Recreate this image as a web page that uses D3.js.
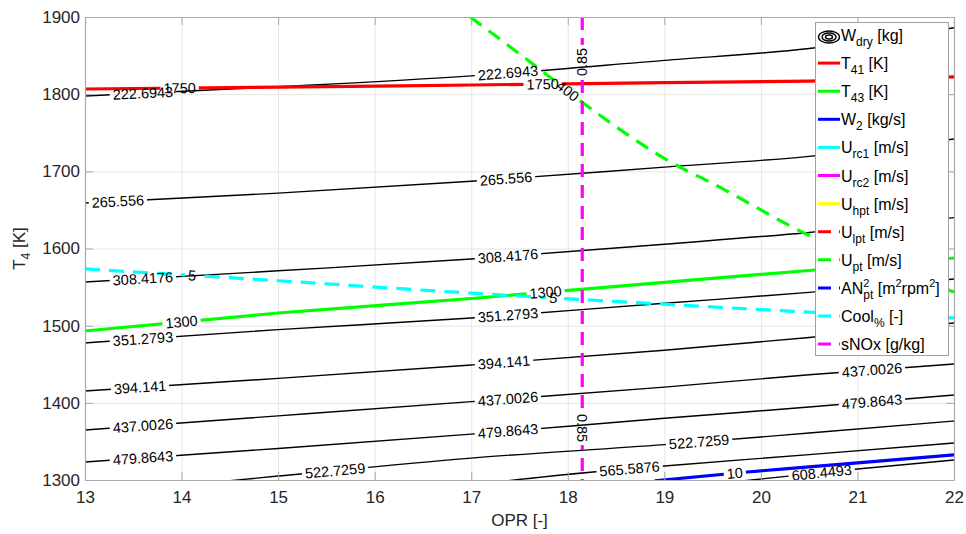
<!DOCTYPE html>
<html>
<head>
<meta charset="utf-8">
<script src="https://cdn.jsdelivr.net/npm/d3@7"></script>
<style>
  body { margin: 0; background: #fff; }
  svg text { font-family: "Liberation Sans", Arial, Helvetica, sans-serif; white-space: pre; }
</style>
</head>
<body>
<svg id="chart" width="966" height="534"></svg>
<script>
// ---- axis ticks ----
const xTicks = [13, 14, 15, 16, 17, 18, 19, 20, 21, 22];
const yTicks = [1300, 1400, 1500, 1600, 1700, 1800, 1900];

// ---- dry weight contours W_dry [kg]: level and (OPR, T4) trace of each iso-line ----
const wdryLevels = [222.6943, 265.556, 308.4176, 351.2793, 394.141, 437.0026, 479.8643, 522.7259, 565.5876, 608.4493];
const wdryOPR = [
  [13, 15, 17, 19, 20.5, 22],
  [13, 15, 17, 19, 20.5, 22],
  [13, 15, 17, 19, 20.5, 22],
  [13, 15, 17, 19, 20.5, 22],
  [13, 15, 17, 19, 20.5, 22],
  [13, 15, 17, 19, 20.5, 22],
  [13, 15, 17, 19, 20.5, 22],
  [14, 15, 17, 19, 20.5, 22],
  [17, 18.26, 19, 20.5, 22],
  [19.5, 21, 22]
];
const wdryT4 = [
  [1797.6, 1809.6, 1823.7, 1843.8, 1859.2, 1886.0],
  [1659.0, 1671.7, 1687.1, 1705.4, 1719.4, 1741.9],
  [1556.6, 1571.1, 1586.4, 1605.6, 1620.8, 1640.0],
  [1477.6, 1494.9, 1509.9, 1529.1, 1543.1, 1560.5],
  [1415.4, 1431.7, 1449.1, 1468.2, 1484.7, 1503.5],
  [1364.8, 1383.1, 1401.5, 1420.3, 1436.4, 1450.4],
  [1323.4, 1340.9, 1359.4, 1380.0, 1394.6, 1410.2],
  [1293.0, 1305.1, 1328.4, 1345.8, 1360.9, 1376.5],
  [1294.0, 1310.4, 1318.2, 1332.9, 1348.0],
  [1294.8, 1314.3, 1326.0]
];
// OPR stations where each contour carries its inline label
const wdryLabelOPR = [
  [13.60, 17.38], [13.34, 17.36], [13.60, 17.38], [13.60, 17.38], [13.57, 17.34],
  [13.60, 17.38, 21.15], [13.60, 17.38, 21.15], [15.59, 19.36], [18.64], [20.63]
];

// ---- constraint iso-lines ----
const t41Level = 1750;               // T41 [K]
const t41OPR = [13, 15, 17, 19, 20.5, 22];
const t41T4  = [1806.7, 1809.0, 1811.9, 1814.9, 1817.0, 1822.3];
const t41LabelOPR = [13.98, 17.74];

const t43Level = 1300;               // T43 [K]
const t43OPR = [13, 15, 17, 19, 20.5, 22];
const t43T4  = [1493.1, 1516.4, 1535.2, 1556.2, 1571.5, 1587.7];
const t43LabelOPR = [14.00, 17.77];

const w2Level = 10;                  // W2 [kg/s]
const w2OPR = [18.9, 19.86, 20.5, 22];
const w2T4  = [1299.0, 1310.4, 1317.0, 1332.5];
const w2LabelOPR = [19.73];

const coolLevel = 5;                 // Cool% [-]
const coolOPR = [13, 15, 17, 19, 20.5, 22];
const coolT4  = [1573.5, 1558.2, 1542.1, 1527.8, 1517.6, 1510.0];
const coolLabelOPR = [14.11, 17.85];

const uptLevel = 400;                // U_pt [m/s]
const uptOPR = [16.99, 17.76, 18.16, 19.16, 19.47, 20.49, 22];
const uptT4  = [1900, 1827.4, 1788.6, 1705.6, 1686.2, 1617.5, 1543.7];
const uptLabelOPR = [18.0];

const snoxLevel = 0.85;              // sNOx [g/kg]
const snoxOPR = 18.15;
const snoxLabelT4 = [1841.7, 1367.4];

// ---- legend ----
const legendLabels = [
  [["W", ""], ["dry", "sub"], [" [kg]", ""]],
  [["T", ""], ["41", "sub"], [" [K]", ""]],
  [["T", ""], ["43", "sub"], [" [K]", ""]],
  [["W", ""], ["2", "sub"], [" [kg/s]", ""]],
  [["U", ""], ["rc1", "sub"], [" [m/s]", ""]],
  [["U", ""], ["rc2", "sub"], [" [m/s]", ""]],
  [["U", ""], ["hpt", "sub"], [" [m/s]", ""]],
  [["U", ""], ["lpt", "sub"], [" [m/s]", ""]],
  [["U", ""], ["pt", "sub"], [" [m/s]", ""]],
  [["AN", ""], ["2", "sup"], ["pt", "stack"], [" [m", ""], ["2", "sup"], ["rpm", ""], ["2", "sup"], ["]", ""]],
  [["Cool", ""], ["%", "sub"], [" [-]", ""]],
  [["sNOx [g/kg]", ""]]
];
const legendColors = ["#000000", "#ff0000", "#00ff00", "#0000ff", "#00ffff", "#ff00ff", "#ffff00",
                      "#ff0000", "#00ff00", "#0000ff", "#00ffff", "#ff00ff"];
const legendDashed = [false, false, false, false, false, false, false, true, true, true, true, true];

// ================= drawing =================
const W = 966, H = 534;
const svg = d3.select("#chart");
const defs = svg.append("defs");

const x = d3.scaleLinear().domain([13, 22]).range([85, 954]);
const y = d3.scaleLinear().domain([1300, 1900]).range([480, 17]);
const [x0, x1] = x.range();
const [yb, yt] = y.range();

defs.append("clipPath").attr("id", "plotClip")
  .append("rect").attr("x", x0).attr("y", yt).attr("width", x1 - x0).attr("height", yb - yt);

svg.append("rect").attr("x", x0).attr("y", yt).attr("width", x1 - x0).attr("height", yb - yt).attr("fill", "#fff");

// grid
const grid = svg.append("g").attr("stroke", "#e6e6e6").attr("stroke-width", 1);
grid.selectAll(".gx").data(xTicks.slice(1, -1)).enter().append("line")
  .attr("x1", d => x(d) + 0.5).attr("x2", d => x(d) + 0.5).attr("y1", yt).attr("y2", yb);
grid.selectAll(".gy").data(yTicks.slice(1, -1)).enter().append("line")
  .attr("y1", d => y(d) + 0.5).attr("y2", d => y(d) + 0.5).attr("x1", x0).attr("x2", x1);

const lineLayer = svg.append("g").attr("clip-path", "url(#plotClip)");
const labelLayer = svg.append("g");

const lineGen = d3.line().x(d => x(d[0])).y(d => y(d[1])).curve(d3.curveMonotoneX);

function interp(xs, ys, v) {
  const n = xs.length;
  let i = 1;
  while (i < n - 1 && v > xs[i]) i++;
  return ys[i - 1] + (ys[i] - ys[i - 1]) * (v - xs[i - 1]) / (xs[i] - xs[i - 1]);
}

// inline label placements along a traced line
function placeLabels(xs, ys, stations, text) {
  return stations.map(o => {
    const h = 0.12;
    const ax = x(o - h), ay = y(interp(xs, ys, o - h));
    const bx = x(o + h), by = y(interp(xs, ys, o + h));
    return { px: x(o), py: y(interp(xs, ys, o)), angle: Math.atan2(by - ay, bx - ax) * 180 / Math.PI, text };
  });
}

let gapId = 0;
function drawLabeledLine(pathD, style, labels) {
  const fs = 14.5;
  const id = "gap" + (gapId++);
  const mask = defs.append("mask").attr("id", id).attr("maskUnits", "userSpaceOnUse")
    .attr("x", 0).attr("y", 0).attr("width", W).attr("height", H);
  mask.append("rect").attr("width", W).attr("height", H).attr("fill", "#fff");

  const path = lineLayer.append("path").attr("d", pathD).attr("fill", "none")
    .attr("stroke", style.color).attr("stroke-width", style.width)
    .attr("mask", `url(#${id})`);
  if (style.dash) path.attr("stroke-dasharray", style.dash);

  labels.forEach(d => {
    const t = labelLayer.append("text")
      .attr("transform", `translate(${d.px},${d.py}) rotate(${d.angle})`)
      .attr("text-anchor", "middle").attr("dy", "0.35em")
      .attr("font-size", fs).attr("fill", "#000").text(d.text);
    const w = t.node().getComputedTextLength();
    mask.append("rect").attr("x", -w / 2 - 3).attr("y", -fs * 0.55).attr("width", w + 6).attr("height", fs * 1.1)
      .attr("fill", "#000").attr("transform", `translate(${d.px},${d.py}) rotate(${d.angle})`);
  });
}

// W_dry contours
wdryLevels.forEach((lev, i) => {
  const pts = wdryOPR[i].map((o, j) => [o, wdryT4[i][j]]);
  drawLabeledLine(lineGen(pts), { color: "#000", width: 1.4 },
    placeLabels(wdryOPR[i], wdryT4[i], wdryLabelOPR[i], String(lev)));
});

// constraint lines
function constraint(xs, ys, stations, level, style) {
  const pts = xs.map((o, j) => [o, ys[j]]);
  drawLabeledLine(lineGen(pts), style, placeLabels(xs, ys, stations, String(level)));
}
constraint(t41OPR, t41T4, t41LabelOPR, t41Level, { color: "#ff0000", width: 3.2 });
constraint(t43OPR, t43T4, t43LabelOPR, t43Level, { color: "#00ff00", width: 3.2 });
constraint(w2OPR, w2T4, w2LabelOPR, w2Level, { color: "#0000ff", width: 3.2 });
constraint(coolOPR, coolT4, coolLabelOPR, coolLevel, { color: "#00ffff", width: 3.2, dash: "15,9" });
constraint(uptOPR, uptT4, uptLabelOPR, uptLevel, { color: "#00ff00", width: 3.2, dash: "14,9" });

// sNOx iso-line (vertical)
{
  const sx = x(snoxOPR);
  const labels = snoxLabelT4.map((t, k) => ({ px: sx, py: y(t), angle: k === 0 ? -90 : 90, text: String(snoxLevel) }));
  drawLabeledLine(`M${sx},${yt}V${yb}`, { color: "#ff00ff", width: 3.2, dash: "13,8" }, labels);
}

// axes (ticks inward on all four sides)
const axisColor = "#a8a8a8";
const fontAxis = 17;
function styleAxis(g) {
  g.select(".domain").attr("stroke", axisColor).attr("stroke-width", 1.2);
  g.selectAll(".tick line").attr("stroke", axisColor);
  g.selectAll(".tick text").attr("fill", "#262626").attr("font-size", fontAxis)
    .attr("font-family", '"Liberation Sans", Arial, sans-serif');
}
svg.append("g").attr("transform", `translate(0,${yb})`)
  .call(d3.axisBottom(x).tickValues(xTicks).tickSize(-8).tickSizeOuter(0).tickPadding(11).tickFormat(d3.format("d")))
  .call(styleAxis);
svg.append("g").attr("transform", `translate(0,${yt})`)
  .call(d3.axisTop(x).tickValues(xTicks).tickSize(-8).tickSizeOuter(0).tickFormat(""))
  .call(styleAxis);
svg.append("g").attr("transform", `translate(${x0},0)`)
  .call(d3.axisLeft(y).tickValues(yTicks).tickSize(-8).tickSizeOuter(0).tickPadding(5).tickFormat(d3.format("d")))
  .call(styleAxis);
svg.append("g").attr("transform", `translate(${x1},0)`)
  .call(d3.axisRight(y).tickValues(yTicks).tickSize(-8).tickSizeOuter(0).tickFormat(""))
  .call(styleAxis);

// axis titles
svg.append("text").attr("x", (x0 + x1) / 2).attr("y", 526).attr("text-anchor", "middle")
  .attr("font-size", fontAxis).attr("fill", "#262626").text("OPR [-]");
{
  const t = svg.append("text").attr("transform", `translate(25,${(yt + yb) / 2}) rotate(-90)`)
    .attr("text-anchor", "middle").attr("font-size", fontAxis).attr("fill", "#262626");
  t.append("tspan").text("T");
  t.append("tspan").attr("font-size", 12).attr("dy", 5).text("4");
  t.append("tspan").attr("dy", -5).text(" [K]");
}

// legend
{
  const lx = 815, ly = 22, lw = 133, lh = 333;
  const lg = svg.append("g");
  lg.append("rect").attr("x", lx + 0.5).attr("y", ly + 0.5).attr("width", lw).attr("height", lh)
    .attr("fill", "#fff").attr("stroke", "#a0a0a0").attr("stroke-width", 1);
  const rowY = i => 35 + i * 28.1;
  legendLabels.forEach((segs, i) => {
    const ry = rowY(i);
    if (i === 0) {
      // contour glyph
      [[10.5, 6], [7, 4], [3.5, 2]].forEach(([rx, ryy]) => {
        lg.append("ellipse").attr("cx", 829).attr("cy", ry + 2).attr("rx", rx).attr("ry", ryy)
          .attr("fill", "none").attr("stroke", "#000").attr("stroke-width", 1.4);
      });
    } else {
      const s = lg.append("line").attr("x1", 818).attr("x2", 840).attr("y1", ry).attr("y2", ry)
        .attr("stroke", legendColors[i]).attr("stroke-width", 3);
      if (legendDashed[i]) s.attr("stroke-dasharray", "13,8");
    }
    const t = lg.append("text").attr("x", 841).attr("y", ry + 6).attr("font-size", 16).attr("fill", "#000");
    let cur = 0, prevW = 0;
    segs.forEach(([txt, mode]) => {
      let target = 0, fs = 16, dx = 0;
      if (mode === "sub") { target = 5; fs = 12; }
      else if (mode === "sup") { target = -7; fs = 11; }
      else if (mode === "stack") { target = 5; fs = 12; dx = -prevW; }
      const ts = t.append("tspan").attr("font-size", fs).attr("dy", target - cur).text(txt);
      if (dx) ts.attr("dx", dx);
      cur = target;
      prevW = ts.node().getComputedTextLength();
    });
  });
}
</script>
</body>
</html>
